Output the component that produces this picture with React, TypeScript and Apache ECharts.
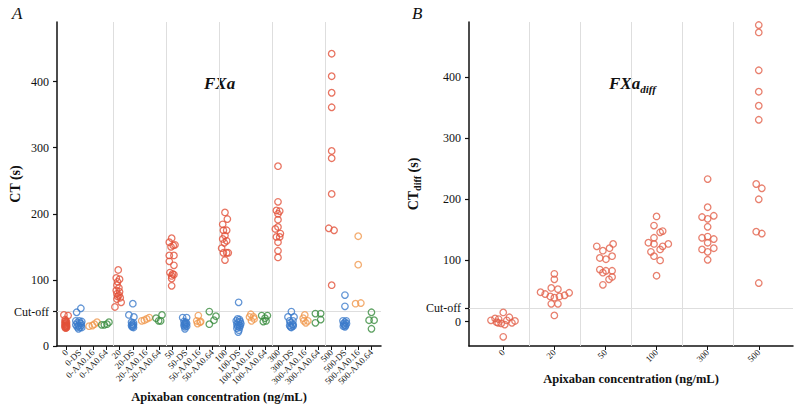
import React, { useEffect, useRef } from "react";
import * as echarts from "echarts";

// ---------- categories / ticks ----------
const categoriesA = [
  "0", "0-DS", "0-AA0.16", "0-AA0.64",
  "20", "20-DS", "20-AA0.16", "20-AA0.64",
  "50", "50-DS", "50-AA0.16", "50-AA0.64",
  "100", "100-DS", "100-AA0.16", "100-AA0.64",
  "300", "300-DS", "300-AA0.16", "300-AA0.64",
  "500", "500-DS", "500-AA0.16", "500-AA0.64",
];
const categoriesB = ["0", "20", "50", "100", "300", "500"];
const yTicks = [0, 100, 200, 300, 400];
const cutoffA = 52;
const cutoffB = 22;

// ---------- panel A data: [jitter, CT (s)] ----------
const ct_0 = [[-0.2, 47], [0.12, 46], [-0.1, 40], [-0.05, 38], [-0.12, 37], [0, 36], [-0.08, 35], [-0.02, 34], [-0.12, 33], [0, 32], [-0.06, 31], [-0.12, 30], [0, 30], [-0.06, 29], [-0.1, 28], [0, 28], [-0.06, 27]];
const ct_0DS = [[0.08, 57], [-0.24, 51], [-0.3, 38], [-0.05, 38], [0.15, 37], [-0.2, 35], [0, 35], [0.1, 34], [-0.3, 32], [-0.1, 31], [0.1, 31], [-0.2, 29], [0, 28], [0.15, 28], [-0.1, 26]];
const ct_0AA016 = [[-0.3, 30], [-0.05, 31], [0.1, 33], [0.3, 36]];
const ct_0AA064 = [[-0.35, 32], [-0.15, 32], [0.05, 33], [0.2, 36]];
const ct_20 = [[-0.1, 115], [-0.25, 103], [0, 101], [-0.15, 97], [-0.2, 92], [-0.05, 88], [-0.25, 84], [0, 82], [-0.2, 79], [-0.05, 77], [-0.15, 75], [0.05, 73], [-0.2, 71], [0.12, 66], [-0.35, 59]];
const ct_20DS = [[0, 64], [-0.3, 47], [0.08, 44], [-0.1, 36], [0.05, 35], [-0.05, 33], [0.05, 32], [-0.1, 31], [0, 30], [-0.05, 29], [0.05, 28]];
const ct_20AA016 = [[-0.33, 38], [-0.13, 39], [0.05, 41], [0.24, 43]];
const ct_20AA064 = [[-0.25, 42], [-0.05, 38], [0.1, 38], [0.2, 47]];
const ct_50 = [[-0.07, 163], [-0.25, 157], [0.05, 152], [0.18, 153], [-0.12, 150], [-0.25, 137], [0.1, 137], [-0.25, 128], [0.1, 122], [-0.2, 111], [0, 109], [0.1, 108], [-0.07, 106], [-0.07, 102], [-0.07, 91]];
const ct_50DS = [[-0.24, 43], [0.06, 43], [-0.14, 37], [0, 36], [-0.07, 35], [0.06, 34], [-0.1, 33], [0, 32], [-0.14, 31], [0.06, 30], [-0.07, 29], [-0.07, 26]];
const ct_50AA016 = [[-0.06, 46], [-0.18, 38], [0.12, 37], [0.07, 36], [-0.12, 34]];
const ct_50AA064 = [[-0.23, 52], [0.27, 45], [0.12, 39], [-0.23, 33]];
const ct_100 = [[-0.05, 202], [0.13, 192], [-0.22, 184], [0.08, 175], [-0.17, 175], [-0.05, 167], [-0.22, 162], [0.08, 159], [-0.1, 156], [-0.3, 148], [-0.17, 141], [0.08, 141], [0.2, 141], [-0.05, 130]];
const ct_100DS = [[-0.02, 66], [-0.1, 41], [0.05, 40], [-0.2, 38], [0.1, 37], [-0.05, 36], [0.15, 34], [-0.15, 33], [0, 32], [0.1, 31], [-0.1, 30], [0.05, 28], [-0.15, 27], [0, 24], [-0.05, 21]];
const ct_100AA016 = [[-0.1, 48], [-0.2, 44], [0.1, 44], [-0.05, 38], [0.15, 41]];
const ct_100AA064 = [[-0.28, 46], [0.15, 46], [-0.03, 42], [-0.16, 37], [0.05, 38]];
const ct_300 = [[-0.05, 272], [-0.05, 218], [-0.17, 205], [0.08, 204], [-0.05, 200], [-0.05, 191], [-0.25, 177], [-0.05, 180], [0.13, 170], [-0.17, 165], [0.08, 165], [-0.05, 157], [-0.05, 144], [-0.05, 134]];
const ct_300DS = [[-0.04, 52], [-0.3, 44], [0.16, 44], [-0.17, 38], [0.08, 38], [-0.1, 35], [0.04, 33], [-0.17, 31], [0.08, 30], [-0.04, 28], [0.1, 32], [-0.1, 29]];
const ct_300AA016 = [[-0.03, 47], [-0.15, 42], [0.2, 38], [0.05, 35], [-0.1, 38]];
const ct_300AA064 = [[-0.23, 49], [0.17, 49], [0.17, 40], [-0.23, 35]];
const ct_500 = [[0, 442], [0, 408], [0, 383], [0, 361], [0, 295], [0, 284], [0, 230], [-0.22, 178], [0.18, 175], [0, 92]];
const ct_500DS = [[0, 77], [0, 60], [-0.15, 38], [0.1, 38], [0, 36], [-0.1, 34], [0.12, 34], [-0.05, 32], [0.05, 31], [-0.12, 30], [0, 29]];
const ct_500AA016 = [[0, 166], [0, 123], [-0.2, 64], [0.2, 65]];
const ct_500AA064 = [[0, 51], [-0.18, 39], [0.2, 39], [0, 26]];

const pointsA = [
  ct_0, ct_0DS, ct_0AA016, ct_0AA064,
  ct_20, ct_20DS, ct_20AA016, ct_20AA064,
  ct_50, ct_50DS, ct_50AA016, ct_50AA064,
  ct_100, ct_100DS, ct_100AA016, ct_100AA064,
  ct_300, ct_300DS, ct_300AA016, ct_300AA064,
  ct_500, ct_500DS, ct_500AA016, ct_500AA064,
];

// ---------- panel B data: [jitter, CTdiff (s)] ----------
const diff_0 = [[0, 15], [-0.24, 2], [-0.16, 5], [-0.09, 4], [-0.13, -1], [-0.04, -3], [0.03, -5], [0.07, 2], [0.12, 7], [0.17, -2], [0.23, 1], [-0.1, -2], [0, -25]];
const diff_20 = [[0, 78], [0, 69], [-0.06, 55], [0.07, 53], [-0.27, 48], [-0.18, 45], [-0.08, 41], [0, 39], [0.1, 41], [0.2, 43], [0.29, 47], [-0.06, 29], [0.07, 29], [0, 10]];
const diff_50 = [[-0.17, 123], [0.15, 127], [-0.05, 116], [0.08, 120], [-0.11, 104], [0.01, 102], [0.13, 107], [-0.11, 85], [-0.05, 80], [0.01, 83], [0.13, 83], [0.13, 73], [0.07, 69], [-0.05, 60]];
const diff_100 = [[0, 172], [-0.05, 157], [0.07, 146], [0.12, 148], [-0.05, 137], [-0.16, 129], [-0.05, 127], [0.12, 123], [0.23, 127], [0.07, 118], [-0.11, 114], [-0.05, 107], [0.07, 100], [0, 75]];
const diff_300 = [[0, 233], [0, 187], [-0.11, 171], [0, 168], [0.12, 173], [0, 155], [-0.11, 137], [0, 139], [0, 129], [0.12, 135], [-0.11, 118], [0, 114], [0.12, 120], [0, 101]];
const diff_500 = [[0, 485], [0, 473], [0, 411], [0, 376], [0, 353], [0, 330], [-0.05, 225], [0.06, 218], [0, 200], [-0.05, 147], [0.06, 144], [0, 63]];
const pointsB = [diff_0, diff_20, diff_50, diff_100, diff_300, diff_500];

const colorsA = ["#e2513a", "#3b7acb", "#f0994e", "#3a8c3f"];
const colorB = "#e2604a";
const FONT = "Liberation Serif";

export default function App() {
  const ref = useRef<HTMLDivElement>(null);
  useEffect(() => {
    if (!ref.current) return;
    const chart = echarts.init(ref.current, undefined, { renderer: "svg" });

    const seriesA = colorsA.map((color, k) => {
      const data: number[][] = [];
      pointsA.forEach((pts, i) => {
        if (i % 4 !== k) return;
        pts.forEach(([dx, v]) => data.push([i + dx, v]));
      });
      return {
        type: "scatter",
        xAxisIndex: 0,
        yAxisIndex: 0,
        data,
        symbol: "circle",
        symbolSize: 6.5,
        itemStyle: { color: "rgba(0,0,0,0)", borderColor: color, borderWidth: 1.3 },
        z: 5,
      };
    });
    const dataB: number[][] = [];
    pointsB.forEach((pts, i) => pts.forEach(([dx, v]) => dataB.push([i + dx, v])));

    const gridLine = { color: "#dedede", width: 1, type: "solid" };
    const refLinesA = {
      silent: true,
      symbol: "none",
      label: { show: false },
      lineStyle: gridLine,
      data: [{ yAxis: cutoffA }, ...[3.5, 7.5, 11.5, 15.5, 19.5].map((x) => ({ xAxis: x }))],
    };
    const refLinesB = {
      silent: true,
      symbol: "none",
      label: { show: false },
      lineStyle: gridLine,
      data: [{ yAxis: cutoffB }, ...[0.5, 1.5, 2.5, 3.5, 4.5].map((x) => ({ xAxis: x }))],
    };

    const axisLine = { show: true, onZero: false, lineStyle: { color: "#111", width: 1.5 } };
    const idxA = categoriesA.map((_, i) => i);
    const idxB = categoriesB.map((_, i) => i);
    const yValsA = [...yTicks, cutoffA];
    const yValsB = [...yTicks, cutoffB];
    const nameStyle = { fontFamily: FONT, fontWeight: "bold", fontSize: 14, color: "#111" };
    const xNameStyle = { fontFamily: FONT, fontWeight: "bold", fontSize: 12.5, color: "#111" };

    chart.setOption({
      animation: false,
      backgroundColor: "#fff",
      textStyle: { fontFamily: FONT },
      grid: [
        { left: 57, right: 419, top: 22, bottom: 61 },
        { left: 469, right: 7, top: 22, bottom: 62 },
      ],
      xAxis: [
        {
          gridIndex: 0, type: "value", min: -0.72, max: 23.72,
          splitLine: { show: false }, axisLine,
          axisTick: { show: true, customValues: idxA, length: 4, lineStyle: { color: "#111", width: 1 } },
          axisLabel: {
            customValues: idxA, formatter: (v: number) => categoriesA[Math.round(v)],
            rotate: 45, fontSize: 9, color: "#222", fontFamily: FONT, margin: 5,
          },
          name: "Apixaban concentration (ng/mL)", nameLocation: "middle", nameGap: 44,
          nameMoveOverlap: false,
          nameTextStyle: xNameStyle,
        },
        {
          gridIndex: 1, type: "value", min: -0.67, max: 5.67,
          splitLine: { show: false }, axisLine,
          axisTick: { show: true, customValues: idxB, length: 4, lineStyle: { color: "#111", width: 1 } },
          axisLabel: {
            customValues: idxB, formatter: (v: number) => categoriesB[Math.round(v)],
            rotate: 45, fontSize: 9, color: "#222", fontFamily: FONT, margin: 5,
          },
          name: "Apixaban concentration (ng/mL)", nameLocation: "middle", nameGap: 26,
          nameMoveOverlap: false,
          nameTextStyle: xNameStyle,
        },
      ],
      yAxis: [
        {
          gridIndex: 0, type: "value", min: 0, max: 490,
          splitLine: { show: false }, axisLine,
          axisTick: { show: true, customValues: yValsA, length: 4, lineStyle: { color: "#111", width: 1.2 } },
          axisLabel: {
            customValues: yValsA,
            formatter: (v: number) => (v === cutoffA ? "Cut-off" : String(v)),
            fontSize: 12, color: "#111", fontFamily: FONT, margin: 8,
          },
          name: "CT (s)", nameLocation: "middle", nameGap: 35,
          nameMoveOverlap: false,
          nameTextStyle: nameStyle,
        },
        {
          gridIndex: 1, type: "value", min: -40, max: 490,
          splitLine: { show: false }, axisLine,
          axisTick: { show: true, customValues: yValsB, length: 4, lineStyle: { color: "#111", width: 1.2 } },
          axisLabel: {
            customValues: yValsB,
            formatter: (v: number) => (v === cutoffB ? "Cut-off" : String(v)),
            fontSize: 12, color: "#111", fontFamily: FONT, margin: 8,
          },
          name: "{a|CT}{b|diff}{a| (s)}", nameLocation: "middle", nameGap: 47,
          nameMoveOverlap: false,
          nameTextStyle: {
            ...nameStyle,
            rich: {
              a: { fontFamily: FONT, fontWeight: "bold", fontSize: 14, color: "#111" },
              b: { fontFamily: FONT, fontWeight: "bold", fontSize: 10, color: "#111", padding: [8, 0, 0, 0] },
            },
          },
        },
      ],
      graphic: [
        { type: "text", left: 12, top: 5, style: { text: "A", fontFamily: FONT, fontStyle: "italic", fontSize: 17, fill: "#111" } },
        { type: "text", left: 412, top: 5, style: { text: "B", fontFamily: FONT, fontStyle: "italic", fontSize: 17, fill: "#111" } },
        {
          type: "text", left: 204, top: 75,
          style: { text: "FXa", fontFamily: FONT, fontStyle: "italic", fontWeight: "bold", fontSize: 17, fill: "#111" },
        },
        {
          type: "text", left: 609, top: 75,
          style: {
            text: "{a|FXa}{b|diff}",
            rich: {
              a: { fontFamily: FONT, fontStyle: "italic", fontWeight: "bold", fontSize: 17, fill: "#111" },
              b: { fontFamily: FONT, fontStyle: "italic", fontWeight: "bold", fontSize: 11, fill: "#111", padding: [10, 0, 0, 0] },
            },
          },
        },
      ],
      series: [
        ...seriesA,
        {
          type: "scatter", xAxisIndex: 0, yAxisIndex: 0, data: [], markLine: refLinesA, z: 1,
        },
        {
          type: "scatter", xAxisIndex: 1, yAxisIndex: 1, data: dataB,
          symbol: "circle", symbolSize: 6.5,
          itemStyle: { color: "rgba(0,0,0,0)", borderColor: colorB, borderWidth: 1.3 },
          markLine: refLinesB, z: 5,
        },
      ],
    });
    return () => chart.dispose();
  }, []);
  return <div ref={ref} style={{ width: 800, height: 408, position: "absolute", left: 0, top: 0 }} />;
}
